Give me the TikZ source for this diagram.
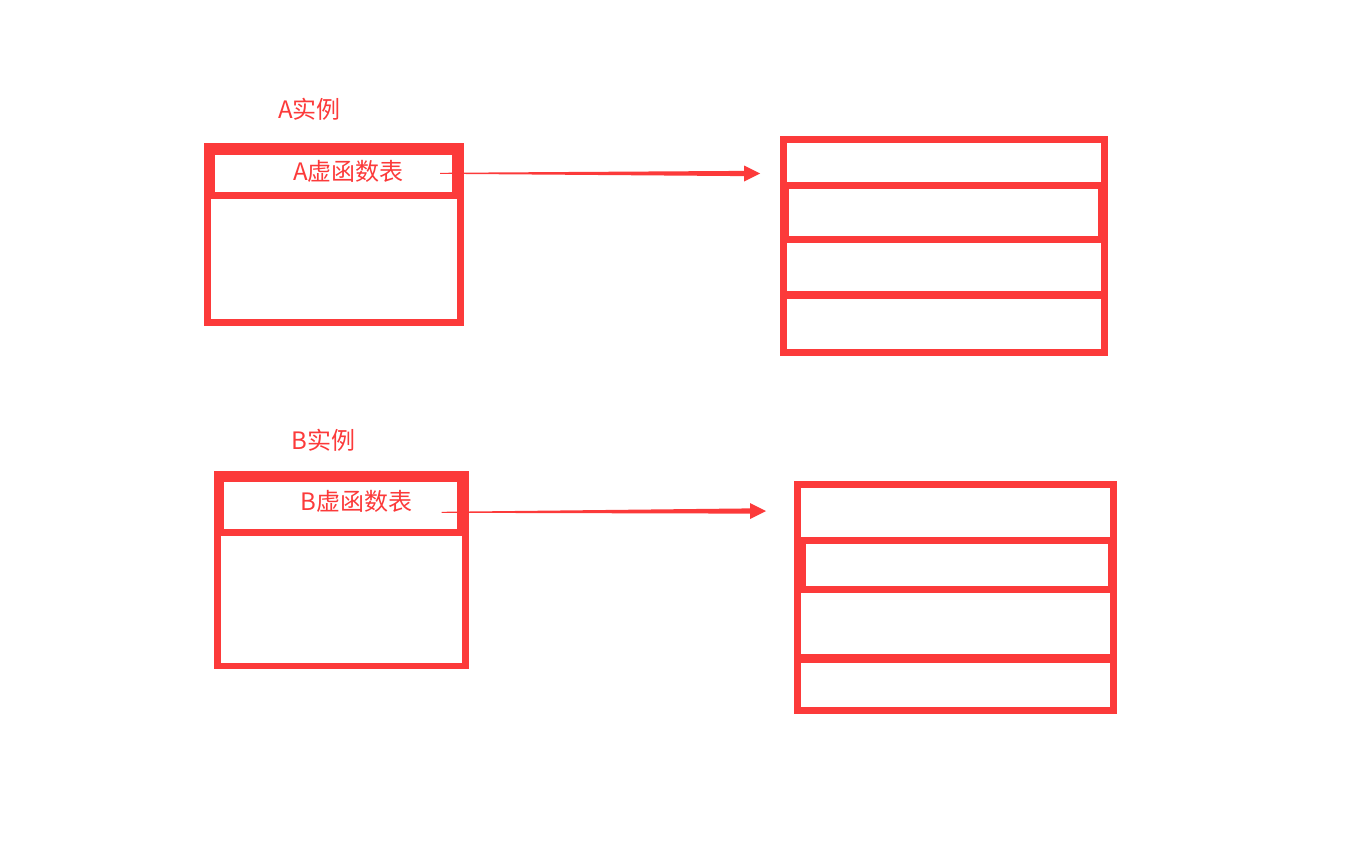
\documentclass[tikz,border=0pt]{standalone}
\usepackage{fontspec}
\newfontfamily\cjk{Noto Sans CJK SC}
\usetikzlibrary{calc}
\definecolor{redc}{RGB}{252,58,58}
\tikzset{
  lbl/.style={text=redc, font=\cjk\fontsize{24}{28}\selectfont, inner sep=0pt, anchor=center},
  frame/.style={fill=redc},
  hole/.style={fill=white},
}
\newcommand\taperarrow[2]{%
  \fill[redc] ($(#1)+(0,-0.5)$) -- ($(#2)+(-16,-2.6)$) -- ($(#2)+(-16,-8)$) -- (#2)
     -- ($(#2)+(-16,8)$) -- ($(#2)+(-16,2.6)$) -- ($(#1)+(0,0.5)$) -- cycle;}
\begin{document}
\begin{tikzpicture}[x=1pt,y=-1pt]
\useasboundingbox[fill=white] (0,0) rectangle (1352,865);

% ---- A instance ----
\fill[frame] (204,142.7) rectangle (464,326);
\fill[hole] (215,155) rectangle (452.3,191.7);
\fill[hole] (211,199) rectangle (457.3,319.3);
\node[lbl] (atitle) at (309.7,109.5) {A实例};
\node[lbl] (avt) at (348.5,171) {A虚函数表};

% ---- A table ----
\fill[frame] (780,136) rectangle (1108,356);
\fill[hole] (787,143) rectangle (1101,181.7);
\fill[hole] (789,189) rectangle (1098,236);
\fill[hole] (787,243) rectangle (1101,291);
\fill[hole] (787,299) rectangle (1101,349);

% ---- B instance ----
\fill[frame] (214,471) rectangle (469,669.3);
\fill[hole] (224,482.3) rectangle (457.3,529);
\fill[hole] (221,535.7) rectangle (462.3,662.7);
\node[lbl] (btitle) at (323.3,440) {B实例};
\node[lbl] (bvt) at (356.3,501.2) {B虚函数表};

% ---- B table ----
\fill[frame] (794,481) rectangle (1117,714);
\fill[hole] (801,487.7) rectangle (1110,537);
\fill[hole] (806,544) rectangle (1108,586);
\fill[hole] (801,593) rectangle (1110,654);
\fill[hole] (801,663) rectangle (1110,707);

% ---- arrows ----
\coordinate (aS) at (440,173.3);
\coordinate (aT) at (760,173.5);
\coordinate (bS) at (441.7,512.3);
\coordinate (bT) at (766,511);
\taperarrow{aS}{aT}
\taperarrow{bS}{bT}
\end{tikzpicture}
\end{document}
